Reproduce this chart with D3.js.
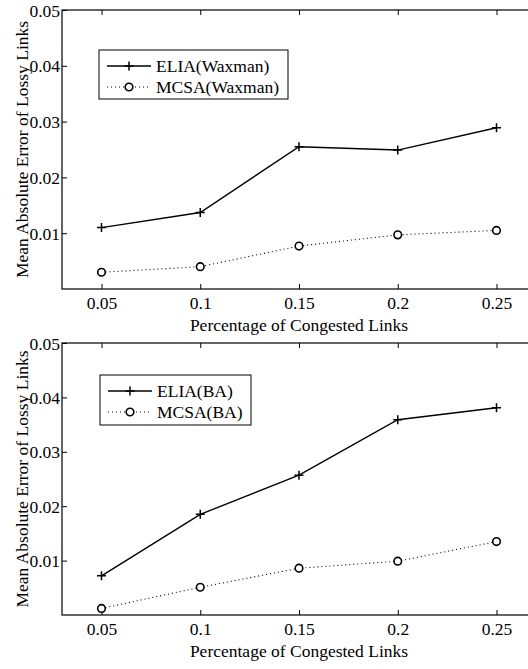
<!DOCTYPE html>
<html><head><meta charset="utf-8">
<script src="https://cdn.jsdelivr.net/npm/d3@7"></script>
<style>body{margin:0;background:#fff}svg{display:block}</style>
</head><body>
<script>
const xValues = [0.05, 0.1, 0.15, 0.2, 0.25];
const xTicks = [0.05, 0.1, 0.15, 0.2, 0.25];
const yTicks = [0.01, 0.02, 0.03, 0.04, 0.05];
const eliaWaxman = [0.0110, 0.0137, 0.0255, 0.0249, 0.0289];
const mcsaWaxman = [0.0030, 0.0040, 0.0077, 0.0097, 0.0105];
const eliaBA = [0.0072, 0.0185, 0.0257, 0.0359, 0.0381];
const mcsaBA = [0.0012, 0.0051, 0.0086, 0.0099, 0.0135];
const panels = [
  {top: 10, bottom: 289, names: ["ELIA(Waxman)", "MCSA(Waxman)"], s: [eliaWaxman, mcsaWaxman], legend: {x: 99, y: 50, w: 189, h: 49}},
  {top: 343, bottom: 615, names: ["ELIA(BA)", "MCSA(BA)"], s: [eliaBA, mcsaBA], legend: {x: 100, y: 375, w: 151, h: 50}}
];
const W = 528, H = 669;
const FONT = "'Liberation Serif', 'Times New Roman', Times, serif";
const svg = d3.select("body").append("svg").attr("width", W).attr("height", H);
const x = d3.scaleLinear().domain([0.03, 0.27]).range([62, 536]);
const fs = 17.5;
panels.forEach(p => {
  const y = d3.scaleLinear().domain([0, 0.05]).range([p.bottom, p.top]);
  const g = svg.append("g");
  g.append("rect").attr("x", 62).attr("y", p.top).attr("width", 536 - 62).attr("height", p.bottom - p.top)
    .attr("fill", "none").attr("stroke", "#000").attr("stroke-width", 1.2);
  const xa = g.append("g").attr("transform", `translate(0,${p.bottom})`)
    .call(d3.axisBottom(x).tickValues(xTicks).tickFormat(d3.format("")).tickSizeInner(-5).tickSizeOuter(0).tickPadding(8));
  xa.select(".domain").remove();
  const xt = g.append("g").attr("transform", `translate(0,${p.top})`)
    .call(d3.axisTop(x).tickValues(xTicks).tickFormat("").tickSizeInner(-5).tickSizeOuter(0));
  xt.select(".domain").remove();
  const ya = g.append("g").attr("transform", `translate(62,0)`)
    .call(d3.axisLeft(y).tickValues(yTicks).tickFormat(d3.format("")).tickSizeInner(-5).tickSizeOuter(0).tickPadding(2));
  ya.select(".domain").remove();
  ya.selectAll("line").remove();
  ya.selectAll("text").attr("dy", "0.35em");
  g.append("g").attr("transform", `translate(62,0)`)
    .call(d3.axisRight(y).tickValues(yTicks).tickFormat("").tickSizeInner(5).tickSizeOuter(0))
    .select(".domain").remove();
  g.selectAll(".tick line").attr("stroke", "#000");
  g.append("text").attr("x", 299).attr("y", p.bottom + 42).attr("text-anchor", "middle")
    .text("Percentage of Congested Links");
  g.append("text").attr("transform", `translate(28,${(p.top + p.bottom) / 2}) rotate(-90)`)
    .attr("text-anchor", "middle").text("Mean Absolute Error of Lossy Links");
  const line = d3.line().x((d, i) => x(xValues[i])).y(d => y(d));
  g.append("path").datum(p.s[0]).attr("d", line).attr("fill", "none").attr("stroke", "#000").attr("stroke-width", 1.4);
  g.append("path").datum(p.s[1]).attr("d", line).attr("fill", "none").attr("stroke", "#000").attr("stroke-width", 1.1).attr("stroke-dasharray", "1,3");
  const plus = (sel, cx, cy) => sel.append("path").attr("d", `M${cx - 4.5},${cy}H${cx + 4.5}M${cx},${cy - 4.5}V${cy + 4.5}`).attr("stroke", "#000").attr("stroke-width", 1.5);
  p.s[0].forEach((d, i) => plus(g, x(xValues[i]), y(d)));
  g.selectAll(".circ").data(p.s[1]).enter().append("circle")
    .attr("cx", (d, i) => x(xValues[i])).attr("cy", d => y(d)).attr("r", 3.8)
    .attr("fill", "#fff").attr("stroke", "#000").attr("stroke-width", 1.6);
  const L = p.legend;
  g.append("rect").attr("x", L.x).attr("y", L.y).attr("width", L.w).attr("height", L.h).attr("fill", "#fff").attr("stroke", "#000").attr("stroke-width", 1);
  const r1 = L.y + 16, r2 = L.y + 37;
  g.append("line").attr("x1", L.x + 8).attr("x2", L.x + 52).attr("y1", r1).attr("y2", r1).attr("stroke", "#000").attr("stroke-width", 1.4);
  plus(g, L.x + 30, r1);
  g.append("line").attr("x1", L.x + 8).attr("x2", L.x + 52).attr("y1", r2).attr("y2", r2).attr("stroke", "#000").attr("stroke-width", 1.1).attr("stroke-dasharray", "1,3");
  g.append("circle").attr("cx", L.x + 30).attr("cy", r2).attr("r", 3.8).attr("fill", "#fff").attr("stroke", "#000").attr("stroke-width", 1.6);
  g.append("text").attr("x", L.x + 57).attr("y", r1).attr("dy", "0.35em").text(p.names[0]);
  g.append("text").attr("x", L.x + 57).attr("y", r2).attr("dy", "0.35em").text(p.names[1]);
});
svg.selectAll("text").style("font-family", FONT).style("font-size", fs + "px").style("fill", "#000");
</script>
</body></html>
